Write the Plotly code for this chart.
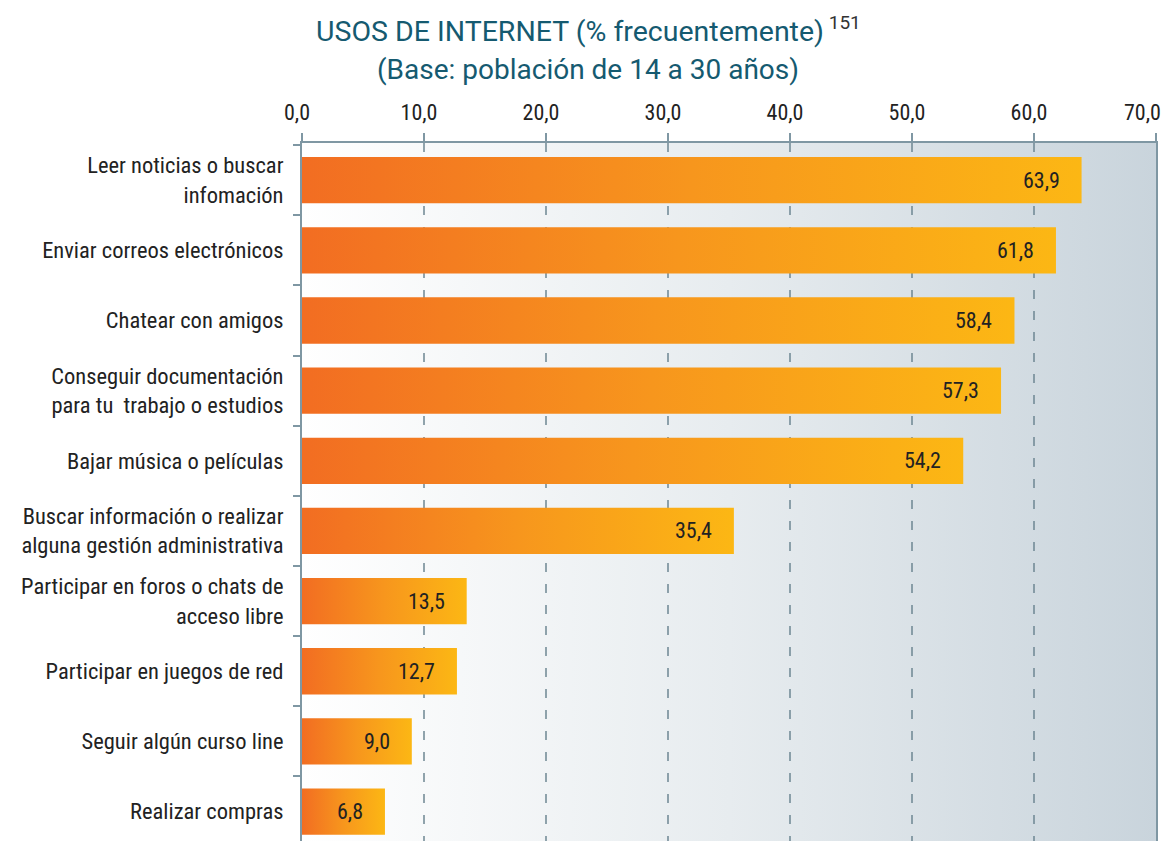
import plotly.graph_objects as go

categories = [
    "Leer noticias o buscar<br>infomación",
    "Enviar correos electrónicos",
    "Chatear con amigos",
    "Conseguir documentación<br>para tu  trabajo o estudios",
    "Bajar música o películas",
    "Buscar información o realizar<br>alguna gestión administrativa",
    "Participar en foros o chats de<br>acceso libre",
    "Participar en juegos de red",
    "Seguir algún curso line",
    "Realizar compras",
]
values = [63.9, 61.8, 58.4, 57.3, 54.2, 35.4, 13.5, 12.7, 9.0, 6.8]
tick_vals = [0, 10, 20, 30, 40, 50, 60, 70]
tick_labels = ["0,0", "10,0", "20,0", "30,0", "40,0", "50,0", "60,0", "70,0"]
title_line1 = "USOS DE INTERNET (% frecuentemente)"
title_note = "151"
title_line2 = "(Base: población de 14 a 30 años)"

FONT = "Liberation Sans Narrow, Roboto Condensed, Arial Narrow, Liberation Sans, sans-serif"
TITLE_FONT = "Roboto, Liberation Sans, sans-serif"
AXIS_COLOR = "#7f97a3"
GRID_COLOR = "#6e8793"
TITLE_COLOR = "#155a70"
TICK_FONT = dict(family=FONT, size=22, color="#222222")
BAR_HALF = 0.33
n = len(categories)
ytop, ybot = -0.53, 9.42

fig = go.Figure()

# background gradient over the plot area
fig.add_trace(go.Scatter(
    x=[0, tick_vals[-1], tick_vals[-1], 0], y=[ytop - 0.3, ytop - 0.3, ybot + 0.5, ybot + 0.5],
    mode="lines", line=dict(width=0), fill="toself",
    fillgradient=dict(type="horizontal", colorscale=[[0, "#ffffff"], [0.5, "#e7ecef"], [1, "#c9d4dc"]]),
    hoverinfo="skip", showlegend=False,
))

# dashed gridlines
gx, gy = [], []
for t in tick_vals[1:-1]:
    gx += [t, t, None]
    gy += [ytop, ybot + 0.5, None]
fig.add_trace(go.Scatter(
    x=gx, y=gy, mode="lines",
    line=dict(color=GRID_COLOR, width=1.5, dash="9px,12px"),
    hoverinfo="skip", showlegend=False,
))

# gradient bars
for i, v in enumerate(values):
    fig.add_trace(go.Scatter(
        x=[0, v, v, 0, 0], y=[i - BAR_HALF, i - BAR_HALF, i + BAR_HALF, i + BAR_HALF, i - BAR_HALF],
        mode="lines", line=dict(width=0), fill="toself",
        fillgradient=dict(type="horizontal", colorscale=[[0, "#f26d22"], [0.5, "#f7961d"], [1, "#fcb714"]]),
        hoverinfo="skip", showlegend=False,
    ))
    fig.add_annotation(
        x=v, y=i, xref="x", yref="y", text=f"{v:.1f}".replace(".", ","),
        showarrow=False, xanchor="right", xshift=-20,
        font=dict(family=FONT, size=22, color="#222222"),
    )

# last tick label kept inside the page edge (right-aligned at its tick)
fig.add_annotation(
    x=tick_vals[-1], y=1, xref="x", yref="paper", text=tick_labels[-1],
    showarrow=False, xanchor="right", yanchor="middle", xshift=7, yshift=31,
    font=TICK_FONT,
)

# title lines (positions in paper units above the plot area)
fig.add_annotation(
    x=0.335, y=1.162, xref="paper", yref="paper", xanchor="center", yanchor="middle",
    text=f"{title_line1}<sup><span style='color:#333333;font-size:19px'> {title_note}</span></sup>",
    showarrow=False, font=dict(family=TITLE_FONT, size=28.5, color=TITLE_COLOR),
)
fig.add_annotation(
    x=0.335, y=1.1046, xref="paper", yref="paper", xanchor="center", yanchor="middle",
    text=title_line2,
    showarrow=False, font=dict(family=TITLE_FONT, size=28, color=TITLE_COLOR),
)

fig.update_layout(
    width=1163, height=833,
    margin=dict(l=294, r=15, t=135, b=0, autoexpand=False),
    paper_bgcolor="white", plot_bgcolor="white",
    showlegend=False,
    font=dict(family=FONT, size=22, color="#222222"),
)

fig.update_xaxes(
    side="top", range=[0, tick_vals[-1]], tickmode="array",
    tickvals=tick_vals, ticktext=tick_labels[:-1] + [""],
    ticks="outside", ticklen=8, tickwidth=1.5, tickcolor=AXIS_COLOR,
    showline=True, linecolor=AXIS_COLOR, linewidth=1.5,
    showgrid=False, zeroline=False, ticklabelstandoff=4,
    ticklabelshift=-5, ticklabeloverflow="allow",
    tickfont=TICK_FONT,
    fixedrange=True, automargin=False,
)
fig.update_yaxes(
    range=[ybot, ytop], tickmode="array",
    tickvals=list(range(n)), ticktext=categories, ticks="",
    minor=dict(tickmode="array", tickvals=[k + 0.5 for k in range(-1, n)],
               ticks="outside", ticklen=7, tickwidth=1.5, tickcolor=AXIS_COLOR, showgrid=False),
    showline=True, linecolor=AXIS_COLOR, linewidth=2, mirror=True,
    showgrid=False, zeroline=False, ticklabelstandoff=12,
    tickfont=dict(family=FONT, size=22.5, color="#222222"),
    fixedrange=True, automargin=False,
)

fig.write_html("out.html")
